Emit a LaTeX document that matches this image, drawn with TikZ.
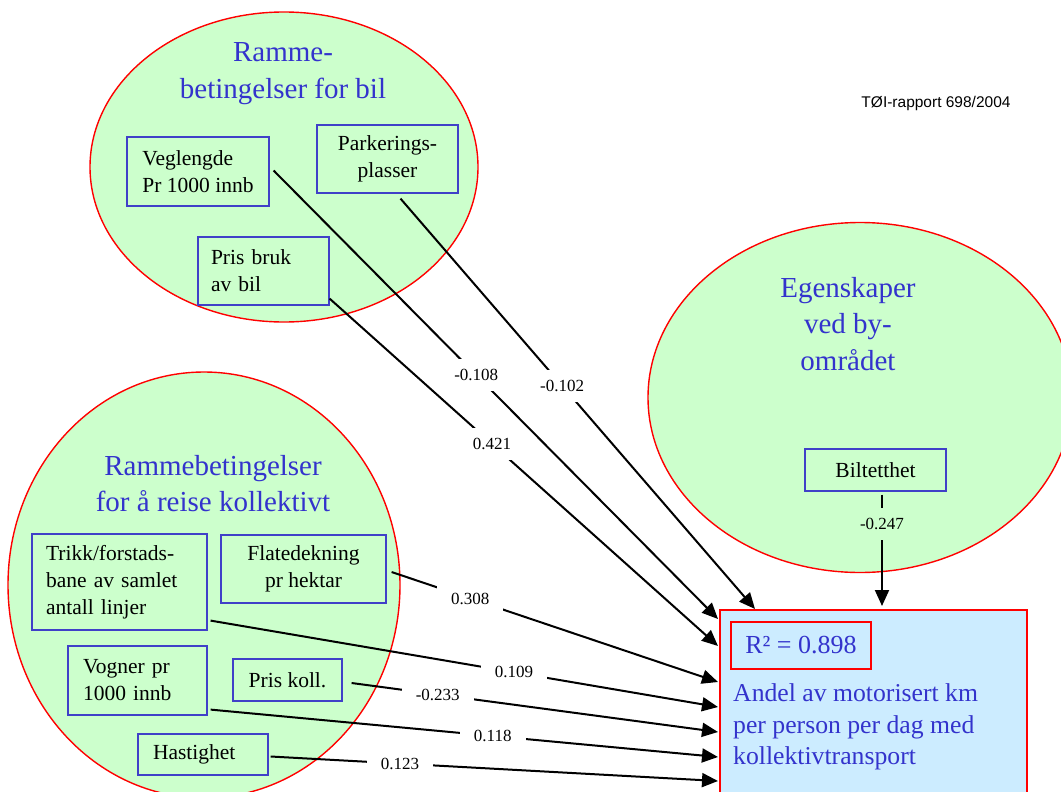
\documentclass[tikz,border=0pt]{standalone}
\usepackage{fontspec}
\setmainfont{Liberation Serif}
\newfontfamily\reportfont{Liberation Sans}
\usetikzlibrary{arrows.meta,positioning,calc,shapes.geometric}
\definecolor{ink}{HTML}{000000}
\definecolor{rim}{HTML}{FF0000}
\definecolor{leaf}{HTML}{CCFFCC}
\definecolor{navy}{HTML}{3333CC}
\definecolor{boxline}{HTML}{4040C8}
\definecolor{sky}{HTML}{CCECFF}
\tikzset{
  group/.style={ellipse, draw=rim, line width=1.4pt, fill=leaf, inner sep=0pt},
  grouptitle/.style={font=\fontsize{29}{36.5}\selectfont, text=navy, align=center, inner sep=0pt},
  box/.style={draw=boxline, line width=1.2pt, fill=leaf, inner sep=0pt, text=ink,
              font=\fontsize{21.5}{27}\selectfont},
  target/.style={draw=rim, line width=1.5pt, fill=sky, inner sep=0pt},
  rbox/.style={draw=rim, line width=1.2pt, inner sep=0pt, text=navy,
               font=\fontsize{26}{30}\selectfont},
  arr/.style={-{Triangle[length=16pt, width=14pt]}, line width=2pt, draw=ink},
  coef/.style={font=\fontsize{17}{20}\selectfont, fill=white, inner xsep=14pt,
               inner ysep=10pt, text=ink},
  coefin/.style={coef, fill=leaf},
}

\begin{document}
\begin{tikzpicture}[x=1pt, y=-1pt]

\useasboundingbox (0,0) rectangle (1061,792);
\clip (0,0) rectangle (1061,792);

% --- groups ---
\node[group, minimum width=388pt, minimum height=310pt] (gbil) at (284,167) {};
\node[group, minimum width=424pt, minimum height=350pt] (gomr) at (860,397.5) {};
\node[group, minimum width=392pt, minimum height=426pt] (gkoll) at (204,585) {};

\node[grouptitle] (tbil) at (283,73.5) {Ramme-\\betingelser for bil};
\node[grouptitle] (tomr) at (848,324) {Egenskaper\\ved by-\\området};
\node[grouptitle] (tkoll) at (213,483.5) {Rammebetingelser\\for å reise kollektivt};

\node[font=\reportfont\fontsize{15.5}{18}\selectfont] (rapport) at (936,103) {TØI-rapport 698/2004};

% --- variables ---
\node[box, minimum width=142pt, minimum height=69pt, align=left]
  (veg) at (198,171.5) {Veglengde\\Pr 1000 innb};
\node[box, minimum width=141pt, minimum height=68pt, align=center]
  (park) at (387.5,159) {Parkerings-\\plasser};
\node[box, minimum width=131pt, minimum height=68pt, text width=105pt, align=left]
  (pris) at (263.5,271) {Pris bruk\\av bil};
\node[box, minimum width=141pt, minimum height=42pt, align=center]
  (bil) at (875.5,470) {Biltetthet};
\node[box, minimum width=175pt, minimum height=96pt, text width=147pt, align=left]
  (trikk) at (119.5,582) {Trikk/forstads-\\bane av samlet\\antall linjer};
\node[box, minimum width=165pt, minimum height=68pt, align=center]
  (flate) at (303.5,569) {Flatedekning\\pr hektar};
\node[box, minimum width=139pt, minimum height=69pt, text width=109pt, align=left]
  (vogn) at (137.5,680.5) {Vogner pr\\1000 innb};
\node[box, minimum width=109pt, minimum height=42pt, align=center]
  (kollpris) at (287.5,680) {Pris koll.};
\node[box, minimum width=130pt, minimum height=41pt, text width=100pt, align=left]
  (hast) at (203,754.5) {Hastighet};

% --- result ---
\node[target, anchor=north west, minimum width=307pt, minimum height=240pt] (tgt) at (719,609) {};
\node[rbox, minimum width=140pt, minimum height=47pt] (rsq) at (801,645.5) {R² = 0.898};
\node[font=\fontsize{25.7}{31.5}\selectfont, text=navy, align=left, anchor=west, inner sep=0pt]
  (andel) at (733,727) {Andel av motorisert km\\per person per dag med\\kollektivtransport};

% --- effects ---
\draw[arr] ($(veg.east)+(4,-1)$) -- node[coef, pos=.456] (c108) {-0.108} ($(tgt.north west)+(-1,10)$);
\draw[arr] ($(park.south)+(13,5)$) -- node[coef, pos=.456] (c102) {-0.102} ($(tgt.north west)+(36,0)$);
\draw[arr] ($(pris.south east)+(0,-7)$) -- node[coef, pos=.418] (c421) {0.421} ($(tgt.north west)+(-1,37)$);
\draw[arr] ($(flate.east)+(5,3)$) -- node[coef, pos=.241] (c308) {0.308} ($(tgt.north west)+(-1,73)$);
\draw[arr] ($(trikk.south east)+(3,-10)$) -- node[coef, pos=.598] (c109) {0.109} ($(tgt.north west)+(-1,98)$);
\draw[arr] ($(kollpris.east)+(9,3)$) -- node[coef, pos=.235] (c233) {-0.233} ($(tgt.north west)+(-1,123)$);
\draw[arr] ($(vogn.south east)+(3,-6)$) -- node[coef, pos=.556] (c118) {0.118} ($(tgt.north west)+(-1,148)$);
\draw[arr] ($(hast.east)+(2,2)$) -- node[coef, pos=.289] (c123) {0.123} ($(tgt.north west)+(-1,172)$);
\draw[arr] ($(bil.south)+(6.5,3)$) -- node[coefin, pos=.265] (c247) {-0.247} ($(tgt.north west)+(163,-3)$);

\end{tikzpicture}
\end{document}
